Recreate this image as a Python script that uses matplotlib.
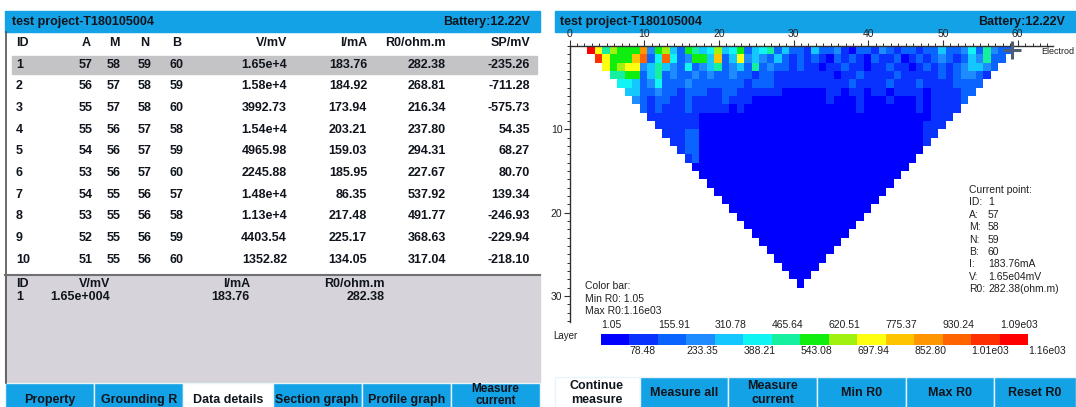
import numpy as np
import matplotlib
matplotlib.use("Agg")
import matplotlib.pyplot as plt
from matplotlib.patches import Rectangle
from matplotlib.colors import ListedColormap, BoundaryNorm

W, H = 1076, 407

# ------------------------------------------------------------------ data
project_title = "test project-T180105004"
battery_text = "Battery:12.22V"

table_columns = ["ID", "A", "M", "N", "B", "V/mV", "I/mA", "R0/ohm.m", "SP/mV"]
row_ids = [1, 2, 3, 4, 5, 6, 7, 8, 9, 10]
a_electrode = [57, 56, 55, 55, 54, 53, 54, 53, 52, 51]
m_electrode = [58, 57, 57, 56, 56, 56, 55, 55, 55, 55]
n_electrode = [59, 58, 58, 57, 57, 57, 56, 56, 56, 56]
b_electrode = [60, 59, 60, 58, 59, 60, 57, 58, 59, 60]
v_mv = [1.65e4, 1.58e4, 3992.73, 1.54e4, 4965.98, 2245.88, 1.48e4, 1.13e4, 4403.54, 1352.82]
i_ma = [183.76, 184.92, 173.94, 203.21, 159.03, 185.95, 86.35, 217.48, 225.17, 134.05]
r0_ohm_m = [282.38, 268.81, 216.34, 237.80, 294.31, 227.67, 537.92, 491.77, 368.63, 317.04]
sp_mv = [-235.26, -711.28, -575.73, 54.35, 68.27, 80.70, 139.34, -246.93, -229.94, -218.10]

detail_columns = ["ID", "V/mV", "I/mA", "R0/ohm.m"]
detail_values = ["1", "1.65e+004", "183.76", "282.38"]

left_buttons = ["Property", "Grounding R", "Data details", "Section graph", "Profile graph", "Measure\ncurrent"]
right_buttons = ["Continue\nmeasure", "Measure all", "Measure\ncurrent", "Min R0", "Max R0", "Reset R0"]

# colour-bar levels (R0, ohm.m) and their printed labels
r0_levels = [1.05, 78.48, 155.91, 233.35, 310.78, 388.21, 465.64, 543.08,
             620.51, 697.94, 775.37, 852.80, 930.24, 1007.67, 1085.10, 1162.54]
r0_level_labels = ["1.05", "78.48", "155.91", "233.35", "310.78", "388.21", "465.64", "543.08",
                   "620.51", "697.94", "775.37", "852.80", "930.24", "1.01e03", "1.09e03", "1.16e03"]
level_colors = ["#0000ff", "#0a32ff", "#0a64ff", "#1e8cff", "#14c8ff", "#10f4f4", "#14f0a0",
                "#10ee10", "#a0f010", "#ffff10", "#ffc400", "#ff9600", "#ff6400", "#ff3000", "#ff0000"]

# pseudo-section: colour class (hex digit, index into level_colors) of each cell, row by row
section_rows = [
    "e968777b" "37842764" "58457245" "62422142" "23102213" "21221224" "22352632" "2",
    "d9777ac2" "5c523774" "a2493432" "42121210" "21210211" "20121232" "1243622",
    "97899346" "43252346" "23426232" "21211011" "21101121" "10121212" "34432",
    "66772462" "32232322" "32212211" "11111101" "12111121" "11112123" "321",
    "55423522" "23222222" "21222111" "11111112" "11112111" "21111222" "2",
    "44223221" "22211221" "11111000" "00011011" "01101111" "0111122",
    "32122112" "11112111" "00000000" "00100010" "00100010" "11112",
    "21211121" "11110100" "00000000" "00000100" "00000101" "111",
    "1111111" "0000000000" "0000000000" "0000000000" "0" "111",
    "111111" "0000000000" "0000000000" "0000000000" "111",
    "11122" "0000000000" "0000000000" "0000000000" "11",
    "1122" "0000000000" "0000000000" "0000000000" "1",
    "122" "0000000000" "0000000000" "0000000000",
    "12" "0000000000" "0000000000" "000000000",
    "0000000000" "0000000000" "000000000",
    "0000000000" "0000000000" "0000000",
    "0000000000" "0000000000" "00000",
    "0000000000" "0000000000" "000",
    "0000000000" "0000000000" "0",
    "0000000000" "000000000",
    "0000000000" "0000000",
    "0000000000" "00000",
    "0000000000" "000",
    "0000000000" "0",
    "000000000",
    "0000000",
    "00000",
    "000",
    "0",
]
section_x_start = 2.4          # electrode coordinate of the first cell edge
current_point_x = 59.3
current_point_depth = 0.5

current_point_labels = ["ID:", "A:", "M:", "N:", "B:", "I:", "V:", "R0:"]
current_point_values = ["1", "57", "58", "59", "60", "183.76mA", "1.65e04mV", "282.38(ohm.m)"]

# ------------------------------------------------------------------ style
plt.rcParams["font.family"] = ["Liberation Sans", "DejaVu Sans"]
BLUE = "#14a2e6"
INK = "#10141c"
PANEL_GRAY = "#d6d3da"
ROW_HILITE = "#c4c4c6"

fig = plt.figure(figsize=(W / 100, H / 100), dpi=100)
bg = fig.add_axes([0, 0, 1, 1])
bg.set_xlim(0, W)
bg.set_ylim(H, 0)
bg.axis("off")


def px_axes(x0, y0, x1, y1):
    return fig.add_axes([x0 / W, 1 - y1 / H, (x1 - x0) / W, (y1 - y0) / H])


def txt(x, y, s, ha="left", size=9, weight="bold", color=INK, **kw):
    bg.text(x, y, s, ha=ha, va="center", fontsize=size, fontweight=weight, color=color, **kw)


def fmt_v(v):
    if v >= 1e4:
        m, e = f"{v:.2e}".split("e")
        return f"{m}e+{int(e)}"
    return f"{v:.2f}"


# ------------------------------------------------------------------ left panel
L0, L1 = 5, 540
bg.add_patch(Rectangle((L0, 11), L1 - L0, 21, color=BLUE, zorder=1))
txt(12, 21.5, project_title)
txt(530, 21.5, battery_text, ha="right")

bg.add_patch(Rectangle((L0, 32), L1 - L0, 244, facecolor="white", edgecolor="none", zorder=0))
bg.plot([L0 + 0.5, L0 + 0.5], [32, 383], color="#505050", lw=1.2, zorder=2)

col_x = [16, 86, 114, 145, 177, 287, 367, 446, 530]
col_ha = ["left", "center", "center", "center", "center", "right", "right", "right", "right"]
header_y = 43
for x, ha, name in zip(col_x, col_ha, table_columns):
    txt(x, header_y, name, ha=ha)

row_y0, row_dy = 64.5, 21.7
bg.add_patch(Rectangle((12, row_y0 - 9), 525, 18, color=ROW_HILITE, zorder=0.5))
for i in range(len(row_ids)):
    y = row_y0 + i * row_dy
    cells = [str(row_ids[i]), str(a_electrode[i]), str(m_electrode[i]), str(n_electrode[i]),
             str(b_electrode[i]), fmt_v(v_mv[i]), f"{i_ma[i]:.2f}", f"{r0_ohm_m[i]:.2f}", f"{sp_mv[i]:.2f}"]
    for x, ha, s in zip(col_x, col_ha, cells):
        txt(x, y, s, ha=ha)

bg.add_patch(Rectangle((L0, 275), L1 - L0, 108, color=PANEL_GRAY, zorder=0))
bg.plot([L0, L1], [275, 275], color="#707070", lw=1.5, zorder=2)
det_x = [16, 110, 250, 385]
det_ha = ["left", "right", "right", "right"]
for x, ha, s in zip(det_x, det_ha, detail_columns):
    txt(x, 284, s, ha=ha)
for x, ha, s in zip(det_x, det_ha, detail_values):
    txt(x, 297, s, ha=ha)

bw = (L1 - L0) / len(left_buttons)
for k, name in enumerate(left_buttons):
    x = L0 + k * bw
    face = "white" if k == 2 else BLUE
    bg.add_patch(Rectangle((x, 383), bw, 30, facecolor=face, edgecolor="#e8f4fc", lw=1, zorder=1))
    if "\n" in name:
        txt(x + bw / 2, 395.5, name, ha="center", size=8.5, linespacing=1.0)
    else:
        txt(x + bw / 2, 400, name, ha="center")

# ------------------------------------------------------------------ right panel
R0x = 555
bg.add_patch(Rectangle((R0x, 11), W - R0x, 21, color=BLUE, zorder=1))
txt(560, 21.5, project_title)
txt(1065, 21.5, battery_text, ha="right")

cmap = ListedColormap(level_colors)
norm = BoundaryNorm(r0_levels, cmap.N)
class_mid = [(r0_levels[k] + r0_levels[k + 1]) / 2 for k in range(cmap.N)]

n_rows = len(section_rows)
n_cols = len(section_rows[0])
Z = np.ma.masked_all((n_rows, n_cols))
for r, s in enumerate(section_rows):
    start = (n_cols - len(s)) // 2
    for j, ch in enumerate(s):
        Z[r, start + j] = class_mid[int(ch, 16)]
x_edges = section_x_start + np.arange(n_cols + 1)
y_edges = np.arange(n_rows + 1)

ax = px_axes(569.5, 46, 1052.7, 322)
ax.set_facecolor("none")
ax.pcolormesh(x_edges, y_edges, Z, cmap=cmap, norm=norm, shading="flat")
ax.set_xlim(0, 64.7)
ax.set_ylim(33.1, 0)
ax.xaxis.tick_top()
ax.set_xticks(range(0, 61, 10))
ax.set_xticks(np.arange(0, 65, 1), minor=True)
ax.set_yticks([10, 20, 30])
ax.set_yticks(np.arange(0, 34, 1), minor=True)
for side in ("right", "bottom"):
    ax.spines[side].set_visible(False)
for side in ("top", "left"):
    ax.spines[side].set_color("#303030")
    ax.spines[side].set_linewidth(1.0)
ax.tick_params(which="major", length=4, width=0.8, color="#303030", labelsize=7.5,
               labelcolor="#202020", pad=1)
ax.tick_params(which="minor", length=2, width=0.7, color="#303030")
ax.plot(current_point_x, current_point_depth, marker="+", ms=13, mew=2.2,
        color="#4e5e74", clip_on=False, zorder=5)
txt(1041, 52, "Electrod", size=6.5, weight="normal", color="#202020")

# current point info
cp_y0, cp_dy = 190, 12.4
txt(969, cp_y0, "Current point:", size=7.5, weight="normal", color="#202020")
for k, (lab, val) in enumerate(zip(current_point_labels, current_point_values)):
    y = cp_y0 + (k + 1) * cp_dy
    txt(969, y, lab, size=7.5, weight="normal", color="#202020")
    txt(988, y, val, size=7.5, weight="normal", color="#202020")

# colour bar
txt(585, 286, "Color bar:", size=7.5, weight="normal", color="#202020")
txt(585, 298.5, "Min R0: 1.05", size=7.5, weight="normal", color="#202020")
txt(585, 311, "Max R0:1.16e03", size=7.5, weight="normal", color="#202020")
txt(553, 336, "Layer", size=7, weight="normal", color="#202020")

cax = px_axes(601, 334, 1028.3, 345)
cax.pcolormesh(np.arange(cmap.N + 1), [0, 1], np.array([class_mid]), cmap=cmap, norm=norm)
cax.set_xlim(0, cmap.N)
cax.set_ylim(0, 1)
cax.axis("off")
for k, lab in enumerate(r0_level_labels):
    yy = 1.85 if k % 2 == 0 else -0.55
    cax.text(k, yy, lab, transform=cax.get_xaxis_transform(), ha="left", va="center",
             fontsize=7.5, color="#202020", clip_on=False)

# bottom buttons
rb_edges = [555, 640, 728, 817, 906, 994, 1076]
for k, name in enumerate(right_buttons):
    x0, x1 = rb_edges[k], rb_edges[k + 1]
    face = "white" if k == 0 else BLUE
    bg.add_patch(Rectangle((x0, 377), x1 - x0, 32, facecolor=face, edgecolor="#e8f4fc", lw=1, zorder=1))
    cx = (x0 + x1) / 2 if k else 597
    txt(cx, 393, name, ha="center", linespacing=1.15)

fig.savefig("out.png", dpi=100)
